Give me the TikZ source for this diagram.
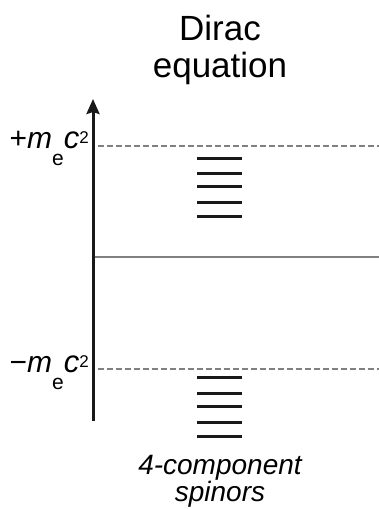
\documentclass[tikz,border=0pt]{standalone}
\usepackage{fontspec}
\setmainfont{Liberation Sans}
\usepackage{tikz}
\usetikzlibrary{arrows.meta}

% rest energy label: sign, m_e c^2
\newcommand{\restmc}[1]{%
  {\fontsize{30}{30}\selectfont #1\textit{m}}%
  \raisebox{-17pt}{\fontsize{21}{21}\selectfont e}%
  {\fontsize{31}{31}\selectfont\textit{c}}%
  \raisebox{5pt}{\fontsize{17}{17}\selectfont 2}}

\begin{document}
\begin{tikzpicture}[
  x=1pt, y=-1pt,
  line cap=butt,
  axis/.style={-{Stealth[length=15pt,width=13pt,inset=2pt]}, line width=3pt, draw=black!90},
  limit/.style={draw=black!50, line width=2pt, dash pattern=on 6pt off 3pt},
  zero/.style={draw=black!50, line width=1.4pt},
  level/.style={draw=black!90, line width=3pt},
  title/.style={inner sep=0pt, align=center, font=\fontsize{35}{37}\selectfont},
  note/.style={inner sep=0pt, align=center, font=\fontsize{28}{27}\selectfont\itshape},
  elabel/.style={inner sep=0pt, anchor=base east},
]
  \useasboundingbox (0,0) rectangle (379,509);
  % Heading and caption
  \node[title, anchor=north] (head) at (220,15) {Dirac\\equation};
  \node[note, anchor=north] (spin) at (220,455) {4-component\\spinors};
  % Energy axis
  \coordinate (axbot) at (93,421);
  \coordinate (axtop) at (93,99);
  \draw[axis] (axbot) -- (axtop);
  % Reference lines
  \coordinate (posL) at (98,146);
  \coordinate (posR) at (379,146);
  \coordinate (negL) at (98,369);
  \coordinate (negR) at (379,369);
  \coordinate (zeroL) at (95,257);
  \coordinate (zeroR) at (379,257);
  \draw[limit] (posL) -- (posR);
  \draw[limit] (negL) -- (negR);
  \draw[zero] (zeroL) -- (zeroR);
  \node[elabel] (plus) at (89,148) {\restmc{+}};
  \node[elabel] (minus) at (89,372) {\restmc{−}};
  % Spinor levels
  \foreach \y in {158,173,186,202,216,377,393,406,422,436}
    \draw[level] (197,\y) -- (242,\y);
\end{tikzpicture}
\end{document}
